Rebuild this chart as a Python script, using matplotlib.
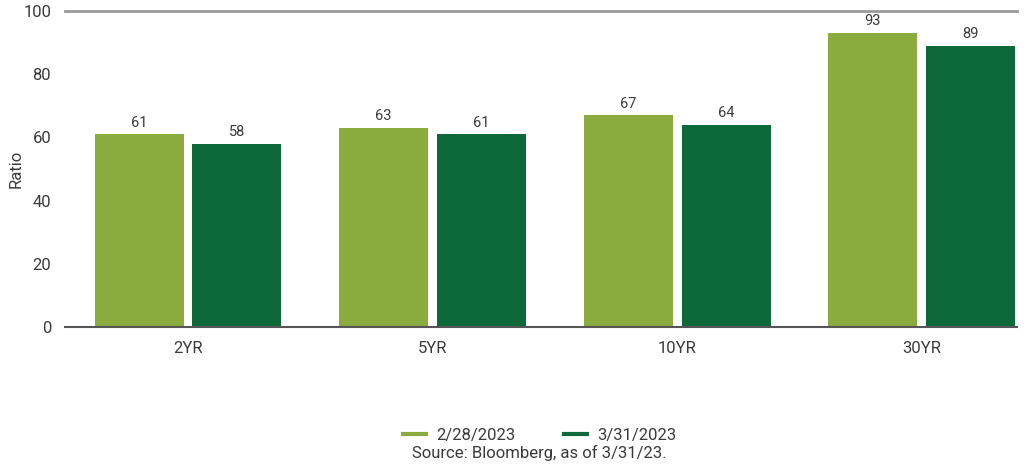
import matplotlib
matplotlib.use("Agg")
import matplotlib.pyplot as plt
from matplotlib.lines import Line2D
import numpy as np

categories = ["2YR", "5YR", "10YR", "30YR"]
series_names = ["2/28/2023", "3/31/2023"]
values_feb = [61, 63, 67, 93]
values_mar = [58, 61, 64, 89]
colors = ["#8aab3e", "#0e693a"]

plt.rcParams['font.family'] = ['Roboto', 'DejaVu Sans']
text_color = "#3a3a3a"

fig = plt.figure(figsize=(10.34, 4.69), dpi=100)
ax = fig.add_axes([0.0629, 0.3028, 0.9207, 0.6737])

x = np.arange(len(categories))
w = 0.364
off = 0.2
b1 = ax.bar(x - off, values_feb, width=w, color=colors[0])
b2 = ax.bar(x + off, values_mar, width=w, color=colors[1])
for bars, vals in ((b1, values_feb), (b2, values_mar)):
    for r, v in zip(bars, vals):
        ax.text(r.get_x() + r.get_width() / 2, v + 1.5, f"{v}", ha="center", va="bottom",
                fontsize=10.5, color=text_color)

ax.set_xlim(-0.503, 3.39)
ax.set_ylim(0, 100)
ax.set_yticks([0, 20, 40, 60, 80, 100])
ax.set_xticks(x)
ax.set_xticklabels(categories)
ax.tick_params(axis="both", length=0, labelsize=12, labelcolor=text_color)
ax.tick_params(axis="x", pad=10)
ax.tick_params(axis="y", pad=10)
ax.set_ylabel("Ratio", fontsize=12, color=text_color)
ax.yaxis.set_label_coords(-0.043, 0.5)

for s in ("left", "right"):
    ax.spines[s].set_visible(False)
ax.spines["top"].set_color("#9a9a9a")
ax.spines["top"].set_linewidth(2)
ax.spines["bottom"].set_color("#555555")
ax.spines["bottom"].set_linewidth(1.5)

handles = [Line2D([0], [0], color=c, lw=3) for c in colors]
fig.legend(handles, series_names, loc="center", bbox_to_anchor=(0.522, 0.072), ncol=2,
           frameon=False, fontsize=12, handlelength=1.4, columnspacing=2.9,
           handletextpad=0.6, labelcolor=text_color)
fig.text(0.522, 0.034, "Source: Bloomberg, as of 3/31/23.", ha="center", va="center",
         fontsize=12, color=text_color)

fig.savefig("out.png", dpi=100)
